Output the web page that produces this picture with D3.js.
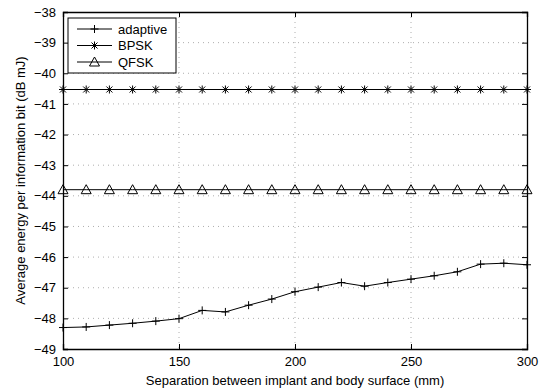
<!DOCTYPE html>
<html>
<head>
<meta charset="utf-8">
<script src="https://cdn.jsdelivr.net/npm/d3@7"></script>
<style>
  body { margin: 0; background: #fff; }
  svg { font-family: "Liberation Sans", Arial, sans-serif; }
</style>
</head>
<body>
<div id="chart"></div>
<script>
// separation (mm)
const separation = [100, 110, 120, 130, 140, 150, 160, 170, 180, 190, 200, 210, 220, 230, 240, 250, 260, 270, 280, 290, 300];
const adaptive = [-48.30, -48.28, -48.22, -48.16, -48.09, -48.01, -47.74, -47.79, -47.57, -47.37, -47.13, -46.98, -46.83, -46.95, -46.83, -46.72, -46.61, -46.48, -46.23, -46.20, -46.25];
const bpsk = [-40.53, -40.53, -40.53, -40.53, -40.53, -40.53, -40.53, -40.53, -40.53, -40.53, -40.53, -40.53, -40.53, -40.53, -40.53, -40.53, -40.53, -40.53, -40.53, -40.53, -40.53];
const qfsk = [-43.80, -43.80, -43.80, -43.80, -43.80, -43.80, -43.80, -43.80, -43.80, -43.80, -43.80, -43.80, -43.80, -43.80, -43.80, -43.80, -43.80, -43.80, -43.80, -43.80, -43.80];
const xTicks = [100, 150, 200, 250, 300];
const yTicks = [-49, -48, -47, -46, -45, -44, -43, -42, -41, -40, -39, -38];
const seriesNames = ["adaptive", "BPSK", "QFSK"];

const width = 542, height = 391;
const margin = { top: 12, right: 15, bottom: 42, left: 63 };
const innerW = width - margin.left - margin.right;
const innerH = height - margin.top - margin.bottom;
const fontSize = 13;

const svg = d3.select("#chart").append("svg")
    .attr("width", width)
    .attr("height", height);

const g = svg.append("g")
    .attr("transform", `translate(${margin.left},${margin.top})`);

const x = d3.scaleLinear().domain([100, 300]).range([0, innerW]);
const y = d3.scaleLinear().domain([-49, -38]).range([innerH, 0]);

//Grid (dotted)
g.append("g").selectAll("line")
    .data(xTicks.slice(1, -1))
    .enter().append("line")
    .attr("x1", d => x(d)).attr("x2", d => x(d))
    .attr("y1", 0).attr("y2", innerH)
    .attr("stroke", "#999").attr("stroke-width", 0.8)
    .attr("stroke-dasharray", "1,4");
g.append("g").selectAll("line")
    .data(yTicks.slice(1, -1))
    .enter().append("line")
    .attr("x1", 0).attr("x2", innerW)
    .attr("y1", d => y(d)).attr("y2", d => y(d))
    .attr("stroke", "#999").attr("stroke-width", 0.8)
    .attr("stroke-dasharray", "1,4");

//Axes with inward ticks
const fmt = d3.format("d");
const xAxis = g.append("g").attr("transform", `translate(0,${innerH})`)
    .call(d3.axisBottom(x).tickValues(xTicks).tickSize(-5).tickPadding(8).tickFormat(fmt));
const xTop = g.append("g")
    .call(d3.axisTop(x).tickValues(xTicks).tickSize(-5).tickFormat(""));
const yAxis = g.append("g")
    .call(d3.axisLeft(y).tickValues(yTicks).tickSize(-5).tickPadding(7).tickFormat(fmt));
const yRight = g.append("g").attr("transform", `translate(${innerW},0)`)
    .call(d3.axisRight(y).tickValues(yTicks).tickSize(-5).tickFormat(""));

[xAxis, xTop, yAxis, yRight].forEach(a => {
    a.select(".domain").attr("stroke", "#000").attr("stroke-width", 1.3);
    a.selectAll(".tick line").attr("stroke", "#000");
    a.selectAll("text").attr("font-size", fontSize).attr("fill", "#000")
        .attr("font-family", "Liberation Sans, Arial, sans-serif");
});

//Lines
const line = d3.line().x((d, i) => x(separation[i])).y(d => y(d));
const seriesData = [adaptive, bpsk, qfsk];
seriesData.forEach(s => {
    g.append("path")
        .datum(s)
        .attr("fill", "none")
        .attr("stroke", "#000")
        .attr("stroke-width", 1)
        .attr("d", line);
});

//Markers
function plusMarker(sel, cx, cy) {
    sel.append("path").attr("d", `M${cx - 4},${cy}H${cx + 4}M${cx},${cy - 4}V${cy + 4}`)
        .attr("stroke", "#000").attr("stroke-width", 1);
}
function starMarker(sel, cx, cy) {
    const r = 4, r2 = 3;
    sel.append("path").attr("d",
        `M${cx - r},${cy}H${cx + r}M${cx},${cy - r}V${cy + r}` +
        `M${cx - r2},${cy - r2}L${cx + r2},${cy + r2}M${cx - r2},${cy + r2}L${cx + r2},${cy - r2}`)
        .attr("stroke", "#000").attr("stroke-width", 1);
}
function triMarker(sel, cx, cy) {
    sel.append("path").attr("d", `M${cx},${cy - 5}L${cx + 5},${cy + 4}L${cx - 5},${cy + 4}Z`)
        .attr("fill", "none").attr("stroke", "#000").attr("stroke-width", 1);
}
const markers = [plusMarker, starMarker, triMarker];
const mg = g.append("g");
seriesData.forEach((s, k) => {
    s.forEach((v, i) => markers[k](mg, x(separation[i]), y(v)));
});

//Legend
const lg = g.append("g").attr("transform", "translate(5,6)");
lg.append("rect").attr("width", 108).attr("height", 55)
    .attr("fill", "#fff").attr("stroke", "#000").attr("stroke-width", 1);
seriesNames.forEach((name, i) => {
    const yy = 11 + i * 16.5;
    lg.append("line").attr("x1", 9).attr("x2", 44).attr("y1", yy).attr("y2", yy)
        .attr("stroke", "#000");
    markers[i](lg, 26.5, yy);
    lg.append("text").attr("x", 50).attr("y", yy + 4.5)
        .attr("font-size", fontSize).text(name);
});

//Axis labels
svg.append("text")
    .attr("x", margin.left + innerW / 2).attr("y", height - 6)
    .attr("text-anchor", "middle").attr("font-size", fontSize)
    .text("Separation between implant and body surface (mm)");
svg.append("text")
    .attr("transform", `translate(25,${margin.top + innerH / 2}) rotate(-90)`)
    .attr("text-anchor", "middle").attr("font-size", fontSize)
    .text("Average energy per information bit (dB mJ)");
</script>
</body>
</html>
